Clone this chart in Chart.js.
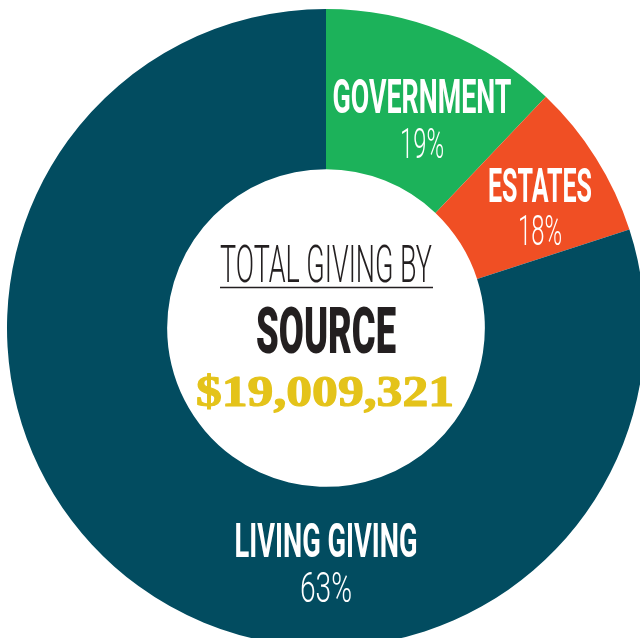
<!DOCTYPE html>
<html lang="en">
<head>
  <meta charset="UTF-8" />
  <title>Total Giving by Source</title>
  <style>
    html, body { margin: 0; padding: 0; width: 640px; height: 638px; overflow: hidden; background: #fff; }
    .wrap { position: absolute; left: 0; top: 0; width: 660px; height: 660px; }
  </style>
</head>
<body>
  <div class="wrap"><canvas id="grafico"></canvas></div>

  <script src="https://cdn.jsdelivr.net/npm/chart.js"></script>
  <script>
    // Dados (fatias como aparecem desenhadas, em %)
    const categorias = ['GOVERNMENT', 'ESTATES', 'LIVING GIVING'];
    const fatias = [12.1, 7.9, 80.0];
    const rotulosPct = ['19%', '18%', '63%'];
    const cores = ['#1cb25a', '#f04f24', '#024c60'];
    const tituloLinhas = ['TOTAL GIVING BY', 'SOURCE'];
    const total = '$19,009,321';

    // escreve texto com altura de maiúscula e largura fixas (fonte condensada)
    function textoAjustado(ctx, txt, peso, familia, cx, base, capH, largura, cor, contorno) {
      ctx.save();
      ctx.font = peso + ' 100px ' + familia;
      const h = ctx.measureText('H').actualBoundingBoxAscent;
      const tam = 100 * capH / h;
      ctx.font = peso + ' ' + tam + 'px ' + familia;
      const w = ctx.measureText(txt).width;
      ctx.translate(cx, base);
      ctx.scale(largura / w, 1);
      ctx.fillStyle = cor;
      ctx.textAlign = 'center';
      ctx.textBaseline = 'alphabetic';
      ctx.fillText(txt, 0, 0);
      if (contorno) {
        ctx.strokeStyle = cor;
        ctx.lineWidth = contorno;
        ctx.lineJoin = 'round';
        ctx.strokeText(txt, 0, 0);
      }
      ctx.restore();
    }

    const textos = {
      id: 'textos',
      afterDraw(chart) {
        const ctx = chart.ctx;
        const sans = 'Roboto, "DejaVu Sans", sans-serif';
        // rótulos das fatias
        textoAjustado(ctx, categorias[0], 'bold', sans, 422, 113, 35, 179, '#fff');
        textoAjustado(ctx, rotulosPct[0], '300', sans, 422, 158, 30, 44, '#fff');
        textoAjustado(ctx, categorias[1], 'bold', sans, 540, 202, 34, 104, '#fff');
        textoAjustado(ctx, rotulosPct[1], '300', sans, 540, 245, 30, 44, '#fff');
        textoAjustado(ctx, categorias[2], 'bold', sans, 326, 557, 35, 183, '#fff');
        textoAjustado(ctx, rotulosPct[2], '300', sans, 326, 602, 30, 52, '#fff');
        // centro
        textoAjustado(ctx, tituloLinhas[0], '300', sans, 326, 282, 37, 212, '#231f20');
        ctx.save();
        ctx.strokeStyle = '#231f20';
        ctx.lineWidth = 1.5;
        ctx.beginPath();
        ctx.moveTo(220, 287.5);
        ctx.lineTo(433, 287.5);
        ctx.stroke();
        ctx.restore();
        textoAjustado(ctx, tituloLinhas[1], '900', sans, 326, 353, 46, 140, '#231f20');
        textoAjustado(ctx, total, 'bold', '"Liberation Serif", "DejaVu Serif", serif', 325, 406, 29, 258, '#e4c31a', 1.2);
      }
    };

    new Chart(document.getElementById('grafico'), {
      type: 'doughnut',
      data: {
        labels: categorias,
        datasets: [{
          data: fatias,
          backgroundColor: cores,
          borderWidth: 0
        }]
      },
      options: {
        responsive: true,
        maintainAspectRatio: false,
        animation: false,
        cutout: '49.8%',
        layout: { padding: { left: 7, top: 9, right: 15, bottom: 13 } },
        plugins: { legend: { display: false }, tooltip: { enabled: false } }
      },
      plugins: [textos]
    });
  </script>
</body>
</html>
